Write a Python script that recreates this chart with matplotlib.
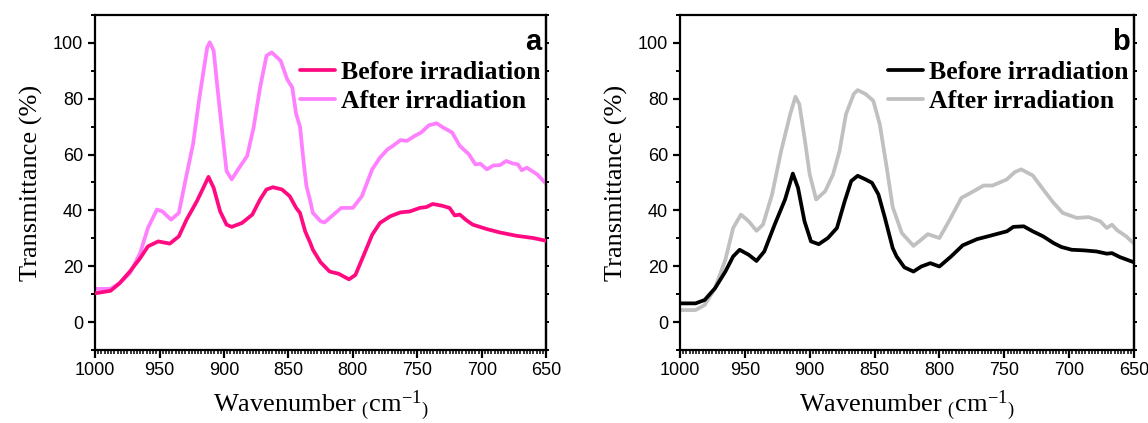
import numpy as np
import matplotlib.pyplot as plt
from matplotlib.ticker import MultipleLocator

# panel a (wavenumber, transmittance)
wn_a_before = [1000, 988, 981, 973, 965, 959, 951, 942, 935, 929, 921, 916, 912, 908, 903, 898,
               894, 886, 878, 872, 867, 862, 855, 849, 844, 841, 837, 833, 831, 825, 818, 811,
               803, 798, 792, 785, 779, 771, 763, 756, 748, 743, 738, 731, 725, 721, 717, 712,
               707, 696, 686, 673, 660, 650]
tr_a_before = [10.3, 11.2, 13.9, 18.1, 22.9, 27.1, 28.9, 28.1, 30.7, 36.7, 43.3, 48.1, 52, 48.1, 39.7, 34.9,
               34.1, 35.5, 38.5, 43.9, 47.5, 48.3, 47.5, 45.1, 40.9, 39.1, 32.5, 28.3, 25.9, 21.4, 18.1, 17.3,
               15.3, 16.9, 23.5, 31.3, 35.5, 37.9, 39.3, 39.6, 40.9, 41.2, 42.3, 41.7, 40.9, 38.2, 38.5, 36.5,
               34.9, 33.3, 32.1, 30.9, 30.1, 29.1]
wn_a_after = [1000, 988, 981, 973, 965, 959, 952, 948, 941, 935, 930, 924, 919, 913, 911, 908,
              904, 900, 898, 894, 889, 882, 877, 872, 867, 863, 856, 851, 847, 844, 841, 838,
              836, 833, 831, 825, 822, 815, 809, 800, 793, 785, 779, 773, 769, 763, 758, 752,
              747, 741, 735, 730, 723, 717, 710, 705, 701, 696, 691, 686, 681, 676, 672, 669,
              665, 657, 650]
tr_a_after = [11.9, 11.9, 13.9, 17.5, 24.7, 33.7, 40.3, 39.7, 36.7, 39.1, 50.5, 63.7, 80.5, 98.4, 100.2, 97.2,
              79.3, 62.5, 54.1, 51.1, 54.7, 59.5, 69.7, 84, 95.4, 96.6, 93.6, 87, 84, 74.5, 70, 56.5,
              48.7, 43.3, 39.1, 36.1, 35.7, 38.5, 40.9, 40.9, 45.1, 54.7, 58.9, 61.9, 63.1, 65.2, 64.9, 66.7,
              67.9, 70.5, 71.2, 69.7, 67.9, 63.1, 60.1, 56.5, 56.7, 54.7, 56.1, 56.2, 57.7, 56.8, 56.5, 54.4,
              55.3, 52.9, 49.5]

# panel b
wn_b_before = [1000, 988, 981, 973, 965, 959, 954, 947, 941, 935, 927, 919, 913, 909, 904, 899,
               893, 886, 879, 873, 868, 863, 857, 852, 847, 842, 836, 833, 827, 820, 814, 807,
               800, 791, 782, 771, 761, 753, 748, 743, 735, 728, 720, 712, 706, 698, 689, 679,
               671, 667, 661, 650]
tr_b_before = [6.7, 6.7, 7.9, 12.1, 18.1, 23.5, 25.9, 24.1, 21.9, 25.3, 34.9, 43.9, 53.2, 48.1, 36.1, 28.9,
               27.9, 30.1, 33.7, 43.3, 50.5, 52.4, 51.1, 49.9, 45.7, 37.3, 26.5, 23.5, 19.6, 18.1, 19.9, 21.1,
               19.9, 23.5, 27.5, 29.7, 30.9, 31.9, 32.5, 34.1, 34.3, 32.5, 30.7, 28.3, 26.9, 25.9, 25.7, 25.3,
               24.5, 24.7, 23.3, 21.4]
wn_b_after = [1000, 988, 981, 973, 965, 959, 953, 947, 941, 936, 929, 922, 915, 911, 908, 904,
              900, 895, 888, 882, 877, 872, 866, 863, 857, 851, 846, 841, 836, 829, 820, 814,
              809, 800, 792, 783, 775, 766, 759, 748, 742, 737, 728, 720, 712, 705, 694, 685,
              676, 671, 667, 663, 656, 650]
tr_b_after = [4.3, 4.3, 6.1, 12.1, 22.3, 33.7, 38.5, 36.1, 32.7, 34.9, 45.7, 61.3, 74.5, 80.7, 78.1, 66.1,
              52.9, 43.9, 46.9, 52.9, 61.3, 74.5, 81.7, 83.1, 81.7, 79.3, 70.9, 56.5, 41.2, 31.9, 27.3, 29.5,
              31.5, 30.1, 36.7, 44.5, 46.5, 48.9, 48.9, 51.1, 53.7, 54.7, 52.5, 47.5, 42.7, 39.1, 37.3, 37.6,
              36.1, 33.7, 34.9, 32.9, 30.7, 28.1]

plt.rcParams['font.family'] = ['Liberation Sans', 'DejaVu Sans']
plt.rcParams['mathtext.fontset'] = 'custom'
plt.rcParams['mathtext.rm'] = 'Liberation Serif'
plt.rcParams['mathtext.it'] = 'Liberation Serif'

fig = plt.figure(figsize=(11.48, 4.23), dpi=100)
ax_a = fig.add_axes([0.0828, 0.1726, 0.393, 0.792])
ax_b = fig.add_axes([0.5923, 0.1726, 0.3955, 0.792])

panels = [
    (ax_a, 'a', wn_a_before, tr_a_before, wn_a_after, tr_a_after, '#ff0a80', '#ff80ff'),
    (ax_b, 'b', wn_b_before, tr_b_before, wn_b_after, tr_b_after, '#000000', '#c0c0c0'),
]

for ax, tag, xb, yb, xa, ya, cb, ca in panels:
    ax.plot(xb, yb, color=cb, lw=2.7, label='Before irradiation', zorder=3,
            solid_joinstyle='round', solid_capstyle='round')
    ax.plot(xa, ya, color=ca, lw=2.7, label='After irradiation', zorder=2,
            solid_joinstyle='round', solid_capstyle='round')
    ax.set_xlim(1000, 650)
    ax.set_ylim(-10, 110)
    ax.xaxis.set_major_locator(MultipleLocator(50))
    ax.xaxis.set_minor_locator(MultipleLocator(2.5))
    ax.yaxis.set_major_locator(MultipleLocator(20))
    ax.yaxis.set_minor_locator(MultipleLocator(10))
    ax.set_yticks([0, 20, 40, 60, 80, 100])
    for s in ax.spines.values():
        s.set_linewidth(1.6)
    ax.tick_params(axis='x', which='major', direction='out', length=6, width=1.6,
                   labelsize=13, top=False, pad=3)
    ax.tick_params(axis='x', which='minor', direction='out', length=3, width=1.1, top=False)
    ax.tick_params(axis='y', which='major', direction='out', length=5, width=1.6,
                   labelsize=13, right=False)
    ax.tick_params(axis='y', which='minor', direction='out', length=3, width=1.4, right=False)
    sec = ax.secondary_yaxis('right')
    sec.yaxis.set_major_locator(MultipleLocator(10))
    sec.tick_params(direction='out', length=2.5, width=1.4, labelright=False)
    sec.spines['right'].set_linewidth(1.6)
    ax.set_xlabel('Wavenumber $_($cm$^{-1}$$_)$', family='Liberation Serif', fontsize=19,
                  labelpad=7)
    ax.set_ylabel('Transmittance (%)', family='Liberation Serif', fontsize=19, labelpad=7)
    ax.text(0.99, 0.92, tag, transform=ax.transAxes, ha='right', va='center',
            fontsize=21, fontweight='bold')
    ax.legend(loc='upper right', bbox_to_anchor=(0.988, 0.862), frameon=False,
              prop={'family': 'Liberation Serif', 'weight': 'bold', 'size': 18.5},
              handlelength=1.35, handletextpad=0.25, labelspacing=0.22, borderaxespad=0.0,
              borderpad=0.0)

fig.savefig('out.png', dpi=100)
